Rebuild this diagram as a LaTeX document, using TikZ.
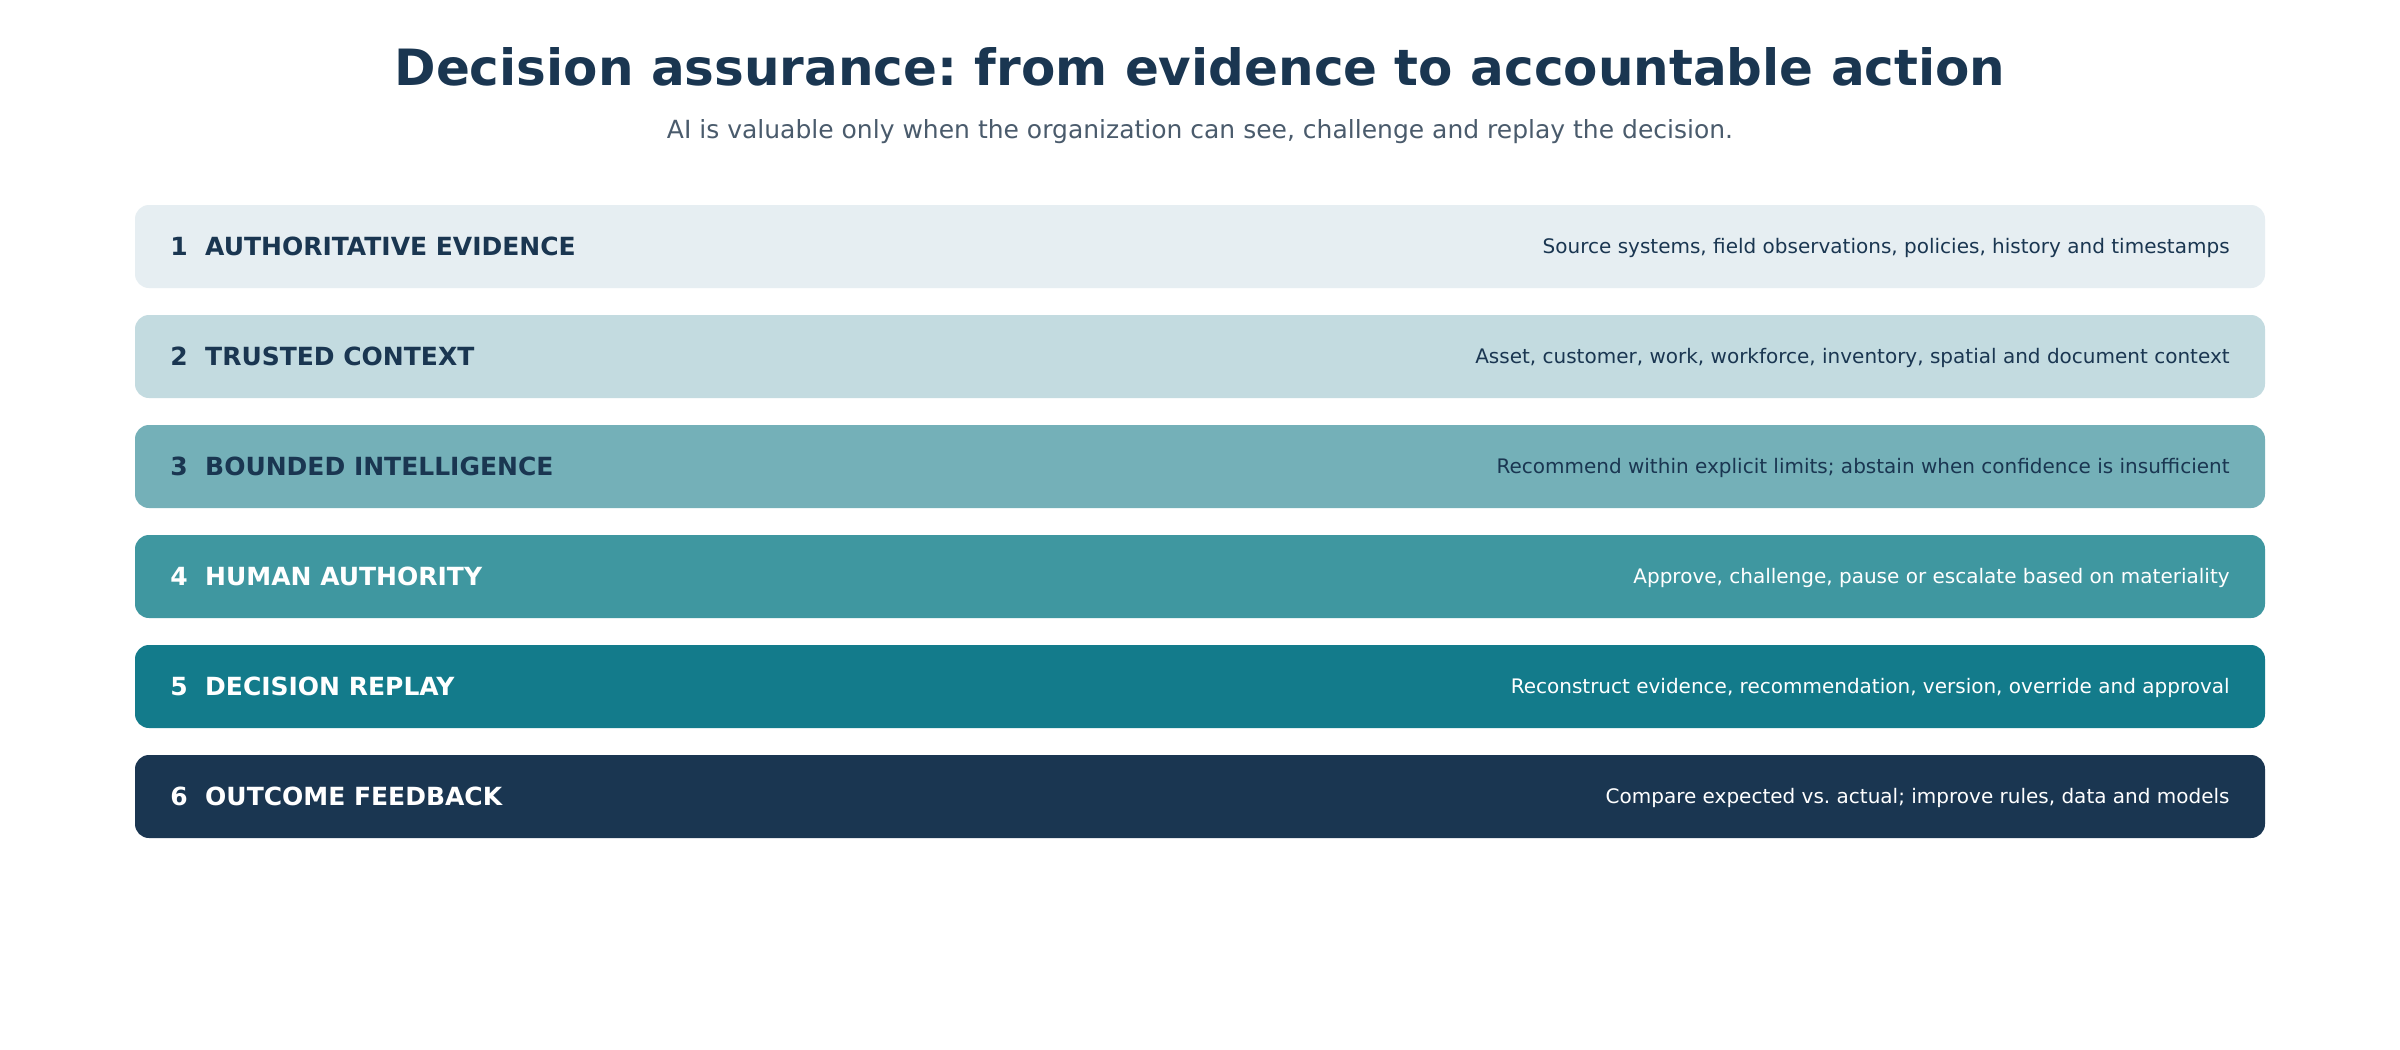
\documentclass[tikz,border=0pt]{standalone}
\usepackage{fontspec}
\setmainfont{DejaVu Sans}
\usetikzlibrary{shapes.geometric}
\frenchspacing

\definecolor{navy}{HTML}{1A3651}
\definecolor{slate}{HTML}{4A5B6C}
\definecolor{tone1}{HTML}{E6EEF2}
\definecolor{tone2}{HTML}{C3DBE0}
\definecolor{tone3}{HTML}{74B0B8}
\definecolor{tone4}{HTML}{3F97A0}
\definecolor{tone5}{HTML}{137B8B}
\definecolor{tone6}{HTML}{1A3651}

\tikzset{
  layer/.style={shape=rectangle,rounded corners=7pt,minimum width=1065pt,minimum height=41.5pt,inner sep=0pt},
  lbl/.style={anchor=base west,inner sep=0pt,font=\fontsize{12.5}{15}\selectfont\bfseries},
  desc/.style={anchor=base east,inner sep=0pt,font=\fontsize{10}{12}\selectfont},
}

\begin{document}
\begin{tikzpicture}[x=0.5pt,y=-0.5pt]
            \useasboundingbox[fill=white](0,0)rectangle(2400,1050);

            \node[anchor=base,text=navy,font=\fontsize{25}{29}\selectfont\bfseries](title)at(1200,85){Decision assurance: from evidence to accountable action};
            \node[anchor=base,text=slate,font=\fontsize{12.5}{15}\selectfont](sub)at(1200,138){AI is valuable only when the organization can see, challenge and replay the decision.};

            \node[layer,fill=tone1](n1)at(1200,246.5){};
            \node[layer,fill=tone2](n2)at(1200,356.5){};
            \node[layer,fill=tone3](n3)at(1200,466.5){};
            \node[layer,fill=tone4](n4)at(1200,576.5){};
            \node[layer,fill=tone5](n5)at(1200,686.5){};
            \node[layer,fill=tone6](n6)at(1200,796.5){};

            \node[lbl,text=navy](l1)at(170,255){1\ \ AUTHORITATIVE EVIDENCE};
            \node[lbl,text=navy](l2)at(170,365){2\ \ TRUSTED CONTEXT};
            \node[lbl,text=navy](l3)at(170,475){3\ \ BOUNDED INTELLIGENCE};
            \node[lbl,text=white](l4)at(170,585){4\ \ HUMAN AUTHORITY};
            \node[lbl,text=white](l5)at(170,695){5\ \ DECISION REPLAY};
            \node[lbl,text=white](l6)at(170,805){6\ \ OUTCOME FEEDBACK};

            \node[desc,text=navy](d1)at(2230,253.5){Source systems, field observations, policies, history and timestamps};
            \node[desc,text=navy](d2)at(2230,363.5){Asset, customer, work, workforce, inventory, spatial and document context};
            \node[desc,text=navy](d3)at(2230,473.5){Recommend within explicit limits; abstain when confidence is insufficient};
            \node[desc,text=white](d4)at(2230,583.5){Approve, challenge, pause or escalate based on materiality};
            \node[desc,text=white](d5)at(2230,693.5){Reconstruct evidence, recommendation, version, override and approval};
            \node[desc,text=white](d6)at(2230,803.5){Compare expected vs. actual; improve rules, data and models};
\end{tikzpicture}
\end{document}
